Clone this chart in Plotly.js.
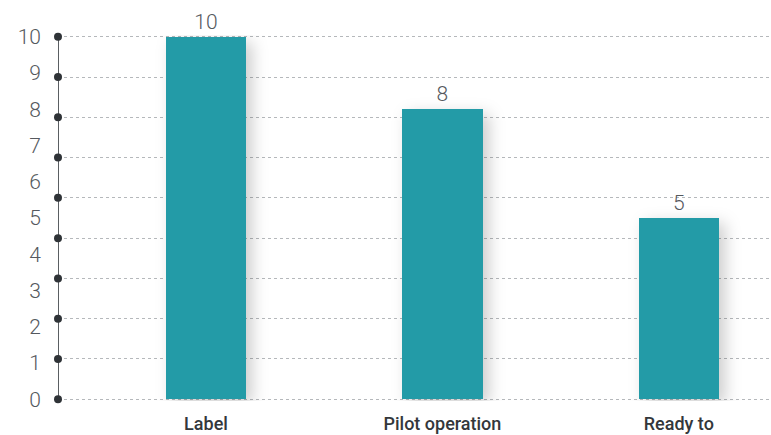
<!DOCTYPE html>
<html>
<head>
<meta charset="utf-8">
<script src="https://cdn.plot.ly/plotly-3.0.1.min.js"></script>
<style>
  html, body { margin: 0; padding: 0; background: #fff; }
  #chart { width: 771px; height: 435px; }
  .barlayer .point path { filter: drop-shadow(6px 5px 8px rgba(0,0,0,0.2)); }
</style>
</head>
<body>
<div id="chart"></div>
<script>
// Stage names and how many items sit in each stage
const categories = ['Label', 'Pilot operation', 'Ready to'];
const counts = [10, 8, 5];

// Value labels on the vertical axis
const yTickValues = [0, 1, 2, 3, 4, 5, 6, 7, 8, 9, 10];
const yTickLabels = ['0', '1', '2', '3', '4', '5', '6', '7', '8', '9', '10'];

// Number of dotted guide lines (with a marker dot on the axis for each)
const guideCount = 10;

const yMax = 10;
const yPad = 0.05; // keeps the end guide lines from sitting exactly on the plot edge
const guideLevels = [];
for (let i = 0; i < guideCount; i++) guideLevels.push(i * yMax / (guideCount - 1));

const teal = '#239ba7';
const labelGray = '#55595e';

const bars = {
  type: 'bar',
  x: categories,
  y: counts,
  width: 0.34,
  marker: { color: teal },
  text: counts.map(String),
  textposition: 'outside',
  textfont: { family: 'Roboto, sans-serif', size: 21, color: labelGray, weight: 300 },
  cliponaxis: false,
  hoverinfo: 'skip'
};

const axisDots = {
  type: 'scatter',
  mode: 'markers',
  x: guideLevels.map(() => 0),
  y: guideLevels,
  xaxis: 'x2',
  yaxis: 'y2',
  marker: { color: '#2f3337', size: 8 },
  cliponaxis: false,
  hoverinfo: 'skip'
};

const layout = {
  width: 771,
  height: 435,
  margin: { l: 58, r: 0, t: 35, b: 34 },
  paper_bgcolor: '#ffffff',
  plot_bgcolor: '#ffffff',
  showlegend: false,
  bargap: 0,
  xaxis: {
    type: 'category',
    range: [-0.626, 2.39],
    showgrid: false,
    zeroline: false,
    showline: false,
    ticks: '',
    ticklabelstandoff: 10,
    tickfont: { family: 'Roboto, sans-serif', size: 18, color: '#33373b', weight: 500 },
    fixedrange: true
  },
  yaxis: {
    range: [-yPad, yMax + yPad],
    tickvals: yTickValues,
    ticktext: yTickLabels,
    showgrid: false,
    zeroline: false,
    showline: false,
    ticks: '',
    ticklabelstandoff: 16,
    tickfont: { family: 'Roboto, sans-serif', size: 21, color: labelGray, weight: 300 },
    fixedrange: true
  },
  xaxis2: {
    overlaying: 'x',
    range: [0, 1],
    visible: false,
    fixedrange: true
  },
  yaxis2: {
    overlaying: 'y',
    range: [-yPad, yMax + yPad],
    tickvals: guideLevels,
    showticklabels: false,
    showgrid: true,
    gridcolor: '#b5b8bb',
    griddash: 'dot',
    gridwidth: 1,
    zeroline: false,
    showline: false,
    ticks: '',
    fixedrange: true
  },
  shapes: [{
    // vertical axis spine running from the lowest to the highest guide line
    type: 'line',
    xref: 'x2', yref: 'y2',
    x0: 0, x1: 0,
    y0: guideLevels[0], y1: guideLevels[guideLevels.length - 1],
    line: { color: '#5a5e62', width: 2 },
    layer: 'below'
  }]
};

Plotly.newPlot('chart', [bars, axisDots], layout, { displayModeBar: false, staticPlot: true });
</script>
</body>
</html>
